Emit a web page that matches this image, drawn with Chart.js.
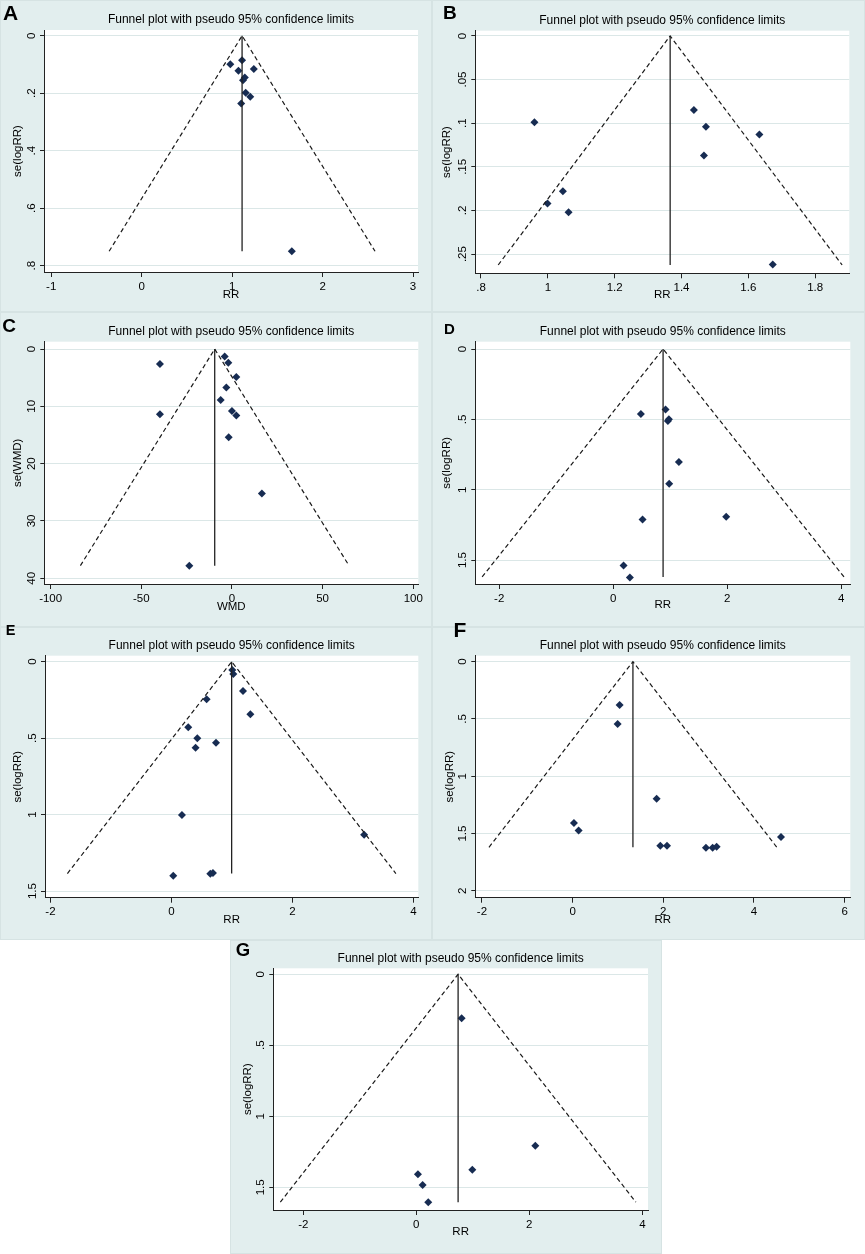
<!DOCTYPE html>
<html>
<head>
<meta charset="utf-8">
<title>Funnel plots</title>
<script src="https://cdn.jsdelivr.net/npm/chart.js@4.4.0/dist/chart.umd.min.js"></script>
<style>
  body { margin: 0; background: #fff; }
  #figure { position: relative; width: 865px; height: 1254px; overflow: hidden; font-family: "Liberation Sans", Arial, sans-serif; }
  .panel-bg { position: absolute; background: #e2eeee; box-sizing: border-box; border: 1px solid #d6e3e3; }
  .panel-chart { position: absolute; }
  .panel-letter { position: absolute; font-weight: bold; line-height: 1; color: #000; }
</style>
</head>
<body>
<div id="figure"></div>
<script>
// Values (effect size vs its standard error)
const rrA = [0.98, 1.11, 1.07, 1.24, 1.14, 1.12, 1.15, 1.20, 1.10, 1.66];
const seA = [0.099, 0.085, 0.122, 0.116, 0.145, 0.155, 0.198, 0.212, 0.236, 0.750];
const pooledA = 1.11, seMaxA = 0.75;
const xTicksA = [-1, 0, 1, 2, 3];
const yTicksA = [0, 0.2, 0.4, 0.6, 0.8];

const rrB = [0.96, 1.437, 1.473, 1.633, 1.467, 1.045, 0.999, 1.062, 1.673];
const seB = [0.099, 0.085, 0.104, 0.113, 0.137, 0.178, 0.192, 0.202, 0.262];
const pooledB = 1.366, seMaxB = 0.2625;
const xTicksB = [0.8, 1, 1.2, 1.4, 1.6, 1.8];
const yTicksB = [0, 0.05, 0.1, 0.15, 0.2, 0.25];

const wmdC = [-4.0, -2.0, -39.7, 2.4, -3.1, -6.2, 0.0, 2.4, -39.7, -1.8, 16.5, -23.5];
const seC = [1.3, 2.4, 2.6, 4.9, 6.7, 8.9, 10.8, 11.6, 11.4, 15.4, 25.2, 37.8];
const pooledC = -9.5, seMaxC = 37.8;
const xTicksC = [-100, -50, 0, 50, 100];
const yTicksC = [0, 10, 20, 30, 40];

const rrD = [0.918, 0.485, 0.977, 0.959, 1.152, 0.982, 0.515, 1.982, 0.181, 0.292];
const seD = [0.429, 0.462, 0.500, 0.512, 0.803, 0.957, 1.211, 1.192, 1.538, 1.623];
const pooledD = 0.875, seMaxD = 1.62;
const xTicksD = [-2, 0, 2, 4];
const yTicksD = [0, 0.5, 1, 1.5];

const rrE = [1.006, 1.022, 1.183, 0.581, 1.304, 0.278, 0.427, 0.736, 0.399, 0.173, 3.185, 0.030, 0.642, 0.686];
const seE = [0.055, 0.081, 0.192, 0.246, 0.344, 0.429, 0.501, 0.530, 0.562, 1.003, 1.131, 1.400, 1.387, 1.382];
const pooledE = 0.995, seMaxE = 1.385;
const xTicksE = [-2, 0, 2, 4];
const yTicksE = [0, 0.5, 1, 1.5];

const rrF = [1.037, 0.993, 1.853, 0.029, 0.132, 4.596, 1.934, 2.081, 2.941, 3.088, 3.176];
const seF = [0.378, 0.544, 1.197, 1.409, 1.473, 1.531, 1.607, 1.607, 1.624, 1.624, 1.616];
const pooledF = 1.33, seMaxF = 1.62;
const xTicksF = [-2, 0, 2, 4, 6];
const yTicksF = [0, 0.5, 1, 1.5, 2];

const rrG = [0.802, 2.106, 0.991, 0.029, 0.112, 0.212];
const seG = [0.310, 1.207, 1.376, 1.408, 1.484, 1.606];
const pooledG = 0.74, seMaxG = 1.605;
const xTicksG = [-2, 0, 2, 4];
const yTicksG = [0, 0.5, 1, 1.5];

const TITLE = 'Funnel plot with pseudo 95% confidence limits';
const FONT = '"Liberation Sans", Arial, sans-serif';
const TICK_SIZE = 11.5;
const TITLE_SIZE = 12;

// Panel geometry (page pixels). box = canvas, area = plot region inside canvas
const panels = [
  { letter: 'A', bg: [0, 0, 432, 312], box: [0, 0, 432, 310], area: [44, 30, 418, 272],
    xr: [-1.08, 3.055], yr: [-0.02, 0.822], xDrop: 23, yTitleX: 18.3, lab: [3, 2.3, 21],
    x: rrA, y: seA, pooled: pooledA, seMax: seMaxA, xt: xTicksA, yt: yTicksA, xTitle: 'RR', yTitle: 'se(logRR)' },
  { letter: 'B', bg: [432, 0, 433, 312], box: [432, 0, 433, 310], area: [43.3, 30.7, 417.3, 273.3],
    xr: [0.783, 1.902], yr: [-0.006, 0.272], xDrop: 22, yTitleX: 15, lab: [443, 2.5, 19],
    x: rrB, y: seB, pooled: pooledB, seMax: seMaxB, xt: xTicksB, yt: yTicksB, xTitle: 'RR', yTitle: 'se(logRR)' },
  { letter: 'C', bg: [0, 312, 432, 315], box: [0, 310, 432, 315], area: [44.3, 31.7, 418.3, 274],
    xr: [-103.5, 102.8], yr: [-1.28, 41.0], xDrop: 22.7, yTitleX: 18.3, lab: [2.3, 315.8, 19],
    x: wmdC, y: seC, pooled: pooledC, seMax: seMaxC, xt: xTicksC, yt: yTicksC, xTitle: 'WMD', yTitle: 'se(WMD)' },
  { letter: 'D', bg: [432, 312, 433, 315], box: [432, 310, 433, 315], area: [43.3, 31.7, 418.3, 274],
    xr: [-2.42, 4.16], yr: [-0.052, 1.67], xDrop: 20.5, yTitleX: 15, lab: [444, 320.7, 15],
    x: rrD, y: seD, pooled: pooledD, seMax: seMaxD, xt: xTicksD, yt: yTicksD, xTitle: 'RR', yTitle: 'se(logRR)' },
  { letter: 'E', bg: [0, 627, 432, 313], box: [0, 625, 432, 315], area: [45, 30.7, 418.3, 272.7],
    xr: [-2.09, 4.08], yr: [-0.039, 1.543], xDrop: 22.3, yTitleX: 18, lab: [5.7, 623, 14.5],
    x: rrE, y: seE, pooled: pooledE, seMax: seMaxE, xt: xTicksE, yt: yTicksE, xTitle: 'RR', yTitle: 'se(logRR)' },
  { letter: 'F', bg: [432, 627, 433, 313], box: [432, 625, 433, 315], area: [43.3, 30.7, 418.3, 272.7],
    xr: [-2.147, 6.125], yr: [-0.052, 2.06], xDrop: 21.8, yTitleX: 18, lab: [453.5, 619, 21],
    x: rrF, y: seF, pooled: pooledF, seMax: seMaxF, xt: xTicksF, yt: yTicksF, xTitle: 'RR', yTitle: 'se(logRR)' },
  { letter: 'G', bg: [230, 940, 432, 314], box: [225, 935, 440, 319], area: [48.3, 33.3, 423, 275],
    xr: [-2.53, 4.1], yr: [-0.042, 1.66], xDrop: 22.3, yTitleX: 23.3, lab: [235.7, 941, 18.5],
    x: rrG, y: seG, pooled: pooledG, seMax: seMaxG, xt: xTicksG, yt: yTicksG, xTitle: 'RR', yTitle: 'se(logRR)' }
];

Chart.defaults.font.family = FONT;
Chart.defaults.color = '#000';

// Stata style labels: .2 instead of 0.2
function stataLabel(v) {
  const s = String(Number(Number(v).toFixed(4)));
  return s.replace(/^(-?)0\./, '$1.');
}

// pseudo 95% limits: pooled +/- 1.96 * se
function funnelLimits(pooled, seMax) {
  return [
    { x: pooled - 1.96 * seMax, y: seMax },
    { x: pooled, y: 0 },
    { x: pooled + 1.96 * seMax, y: seMax }
  ];
}

const measureCtx = document.createElement('canvas').getContext('2d');
measureCtx.font = TICK_SIZE + 'px ' + FONT;

// white plot region like Stata's plotregion
const whitePlot = {
  id: 'whitePlot',
  beforeDraw(chart) {
    const { ctx, chartArea: a } = chart;
    ctx.save();
    ctx.fillStyle = '#fff';
    ctx.fillRect(a.left, a.top, a.right - a.left, a.bottom - a.top);
    ctx.restore();
  }
};

const figure = document.getElementById('figure');

panels.forEach(p => {
  const bg = document.createElement('div');
  bg.className = 'panel-bg';
  bg.style.left = p.bg[0] + 'px';
  bg.style.top = p.bg[1] + 'px';
  bg.style.width = p.bg[2] + 'px';
  bg.style.height = p.bg[3] + 'px';
  figure.appendChild(bg);
});

panels.forEach(p => {
  const [ox, oy, w, h] = p.box;
  const [L, T, R, B] = p.area;

  const canvas = document.createElement('canvas');
  canvas.className = 'panel-chart';
  canvas.width = w;
  canvas.height = h;
  canvas.style.left = ox + 'px';
  canvas.style.top = oy + 'px';
  canvas.style.width = w + 'px';
  canvas.style.height = h + 'px';
  figure.appendChild(canvas);

  const titleLine = TITLE_SIZE * 1.2;
  const titlePadBottom = 10 - titleLine / 2;
  const titlePadTop = T - titleLine - titlePadBottom;
  const axisLine = TICK_SIZE * 1.2;
  const xAxisH = p.xDrop + axisLine / 2;

  const yLabels = p.yt.map(stataLabel);
  const widest = Math.max(...yLabels.map(t => measureCtx.measureText(t).width));
  const yTickPad = 12 - 4 - widest / 2;

  new Chart(canvas, {
    type: 'scatter',
    data: {
      datasets: [
        {
          data: funnelLimits(p.pooled, p.seMax),
          showLine: true,
          borderColor: '#1a1a1a',
          borderWidth: 1.2,
          borderDash: [4.5, 3],
          pointRadius: 0
        },
        {
          data: [{ x: p.pooled, y: 0 }, { x: p.pooled, y: p.seMax }],
          showLine: true,
          borderColor: '#222',
          borderWidth: 1.3,
          pointRadius: 0
        },
        {
          data: p.x.map((v, i) => ({ x: v, y: p.y[i] })),
          pointStyle: 'rectRot',
          pointRadius: 4,
          backgroundColor: '#172c52',
          borderColor: '#172c52',
          borderWidth: 0
        }
      ]
    },
    options: {
      responsive: false,
      animation: false,
      events: [],
      layout: { padding: { left: 0, top: 0, right: w - R, bottom: h - B - xAxisH } },
      plugins: {
        legend: { display: false },
        tooltip: { enabled: false },
        title: {
          display: true,
          text: TITLE,
          fullSize: false,
          color: '#000',
          font: { size: TITLE_SIZE, weight: 'normal', lineHeight: 1.2 },
          padding: { top: titlePadTop, bottom: titlePadBottom }
        }
      },
      scales: {
        x: {
          type: 'linear',
          min: p.xr[0],
          max: p.xr[1],
          bounds: 'data',
          afterBuildTicks: axis => { axis.ticks = p.xt.map(v => ({ value: v })); },
          afterFit: axis => { axis.height = xAxisH; },
          grid: { drawOnChartArea: false, tickLength: 5, tickColor: '#222', tickWidth: 1 },
          border: { color: '#222', width: 1 },
          ticks: {
            autoSkip: false,
            maxRotation: 0,
            padding: 2.5,
            font: { size: TICK_SIZE, lineHeight: 1.2 },
            callback: v => stataLabel(v)
          },
          title: {
            display: true,
            text: p.xTitle,
            font: { size: TICK_SIZE, lineHeight: 1.2 },
            padding: { top: 0, bottom: 0 }
          }
        },
        y: {
          type: 'linear',
          reverse: true,
          min: p.yr[0],
          max: p.yr[1],
          bounds: 'data',
          afterBuildTicks: axis => { axis.ticks = p.yt.map(v => ({ value: v })); },
          afterFit: axis => { axis.width = L; },
          grid: { color: '#dbe7e7', lineWidth: 1, tickLength: 4, tickColor: '#222', tickWidth: 1 },
          border: { color: '#222', width: 1 },
          ticks: {
            minRotation: 90,
            maxRotation: 90,
            crossAlign: 'center',
            padding: yTickPad,
            font: { size: TICK_SIZE, lineHeight: 1.2 },
            callback: v => stataLabel(v)
          },
          title: {
            display: true,
            text: p.yTitle,
            font: { size: TICK_SIZE, lineHeight: 1.2 },
            padding: { top: p.yTitleX - axisLine / 2, bottom: 0 }
          }
        }
      }
    },
    plugins: [whitePlot]
  });

  const letter = document.createElement('div');
  letter.className = 'panel-letter';
  letter.textContent = p.letter;
  letter.style.left = p.lab[0] + 'px';
  letter.style.top = p.lab[1] + 'px';
  letter.style.fontSize = p.lab[2] + 'px';
  figure.appendChild(letter);
});
</script>
</body>
</html>
